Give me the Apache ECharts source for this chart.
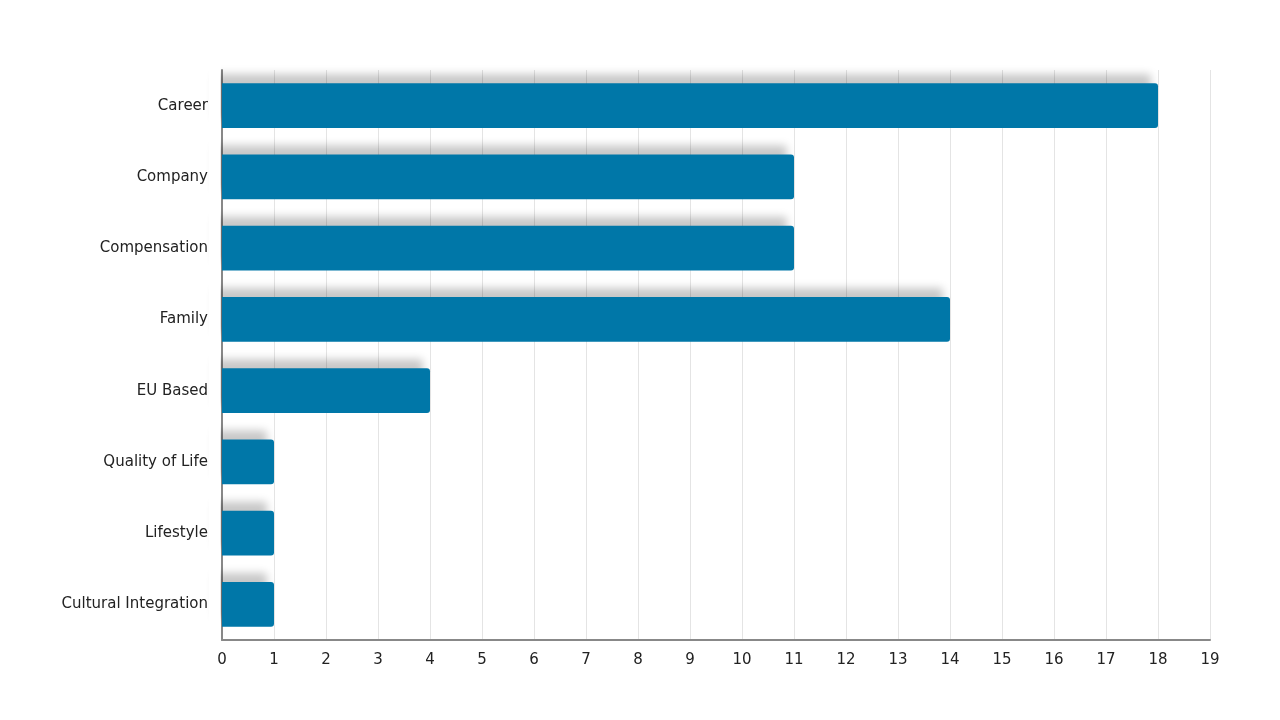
<!DOCTYPE html>
<html>
<head>
<meta charset="utf-8">
<script src="https://cdn.jsdelivr.net/npm/echarts@6/dist/echarts.min.js"></script>
<style>
  html, body { margin: 0; padding: 0; background: #fff; }
  #chart { width: 1280px; height: 720px; }
</style>
</head>
<body>
<div id="chart"></div>
<script>
var categories = ['Career', 'Company', 'Compensation', 'Family', 'EU Based', 'Quality of Life', 'Lifestyle', 'Cultural Integration'];
var counts = [18, 11, 11, 14, 4, 1, 1, 1];

var chart = echarts.init(document.getElementById('chart'));
chart.setOption({
    animation: false,
    grid: { left: 222, right: 70, top: 70, bottom: 80 },
    // white strip hiding the shadow spill left of the y axis
    graphic: [{
        type: 'rect',
        z: 10,
        shape: { x: 209, y: 60, width: 11.5, height: 585 },
        style: { fill: '#fff' }
    }],
    xAxis: {
        type: 'value',
        min: 0,
        max: 19,
        interval: 1,
        axisLine: { show: true, lineStyle: { color: '#888', width: 2 } },
        axisTick: { show: false },
        splitLine: { lineStyle: { color: '#e4e4e4' } },
        axisLabel: { color: '#222', fontFamily: 'DejaVu Sans', fontSize: 15, margin: 13 }
    },
    yAxis: {
        type: 'category',
        inverse: true,
        data: categories,
        axisLine: { show: true, lineStyle: { color: '#888', width: 2 } },
        axisTick: { show: false },
        axisLabel: { color: '#222', fontFamily: 'DejaVu Sans', fontSize: 15, margin: 14 }
    },
    series: [{
        type: 'bar',
        data: counts,
        barWidth: '63%',
        itemStyle: {
            color: '#0077a8',
            borderRadius: [0, 3, 3, 0],
            shadowColor: 'rgba(0,0,0,0.22)',
            shadowBlur: 8,
            shadowOffsetX: -7,
            shadowOffsetY: -9
        }
    }]
});
</script>
</body>
</html>
